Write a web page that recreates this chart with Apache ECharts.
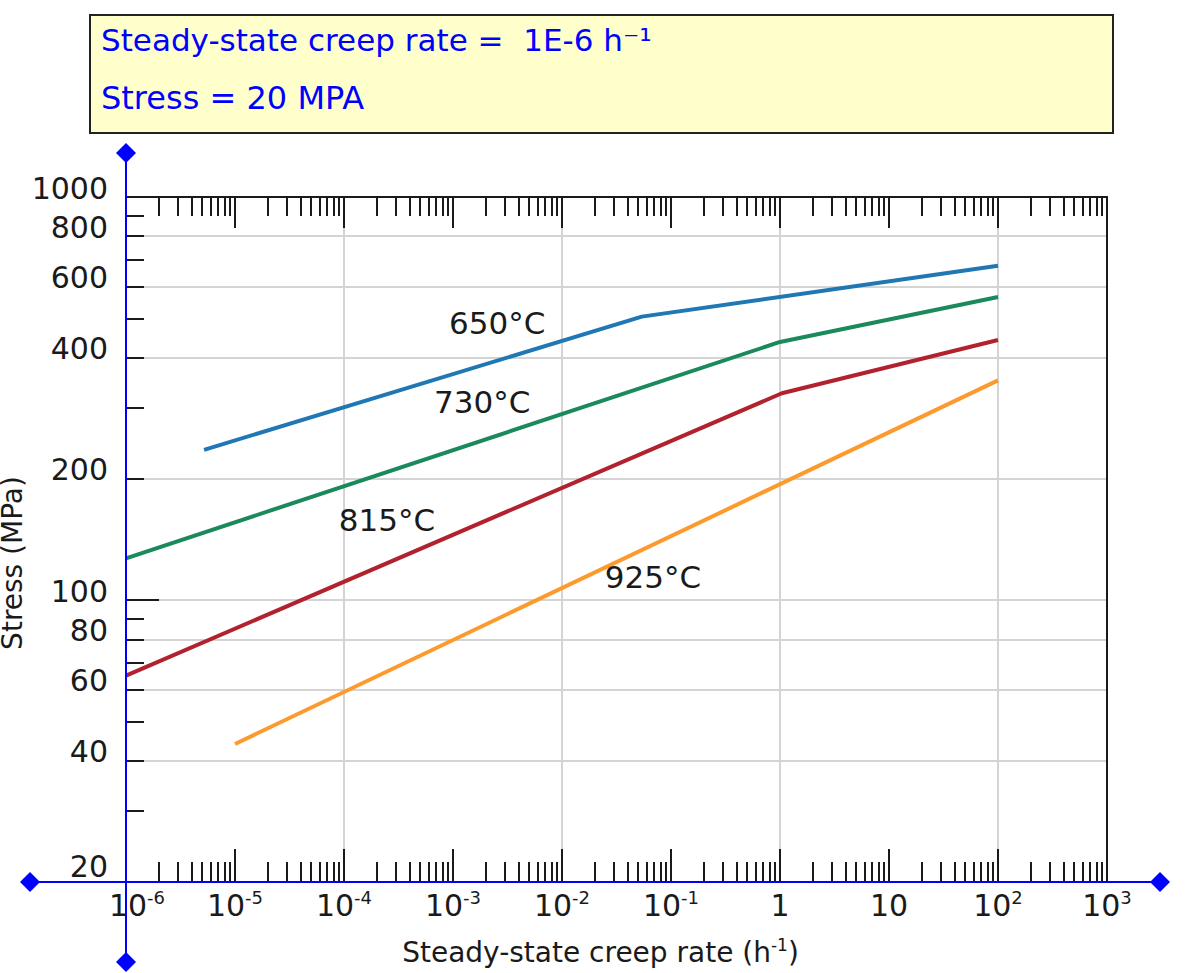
<!DOCTYPE html>
<html>
<head>
<meta charset="utf-8">
<title>Steady-state creep rate vs stress</title>
<script src="https://cdn.jsdelivr.net/npm/echarts@6/dist/echarts.min.js"></script>
<style>
  html, body { margin: 0; padding: 0; background: #fff; }
  #chart { width: 1200px; height: 973px; }
</style>
</head>
<body>
<div id="chart"></div>
<script>
// curves: creep rate in 1/h, stress in MPa
var temps = ['650°C', '730°C', '815°C', '925°C']
var rate650 = [5.2e-6, 0.054, 100]
var stress650 = [236, 505, 675]
var rate730 = [1e-6, 1, 100]
var stress730 = [127, 437, 565]
var rate815 = [1e-6, 1.04, 100]
var stress815 = [65, 326, 442]
var rate925 = [1e-5, 100]
var stress925 = [44, 351]

// axis ticks / labels
var rateTicks = [1e-6, 1e-5, 1e-4, 1e-3, 1e-2, 1e-1, 1, 10, 100, 1000]
var rateGrid = [1e-4, 1e-2, 1, 100]
var stressLabels = [20, 40, 60, 80, 100, 200, 400, 600, 800, 1000]
var stressGrid = [40, 60, 80, 100, 200, 400, 600, 800]
var stressTicks = [30, 40, 50, 60, 70, 80, 90, 200, 300, 400, 500, 600, 700, 800, 900]
var stressMajor = [100]

var colors = ['#1f77b4', '#1b8a5a', '#b2222e', '#fd9a2e']
// where the temperature labels sit (rate, stress)
var labelAt = [[2.54e-3, 488], [1.85e-3, 310], [2.48e-4, 158], [0.0684, 114]]

var GRID = { left: 126, top: 197, right: 1107, bottom: 882 }
var FONT = 'DejaVu Sans'
var INK = '#1a1a1a'

// minor log ticks 2..9 in every decade
var rateMinor = []
for (var k = 0; k < rateTicks.length - 1; k++) {
  for (var m = 2; m <= 9; m++) rateMinor.push(m * rateTicks[k])
}

function pairs(xs, ys) {
  return xs.map(function (x, i) { return [x, ys[i]] })
}
var curves = [
  pairs(rate650, stress650),
  pairs(rate730, stress730),
  pairs(rate815, stress815),
  pairs(rate925, stress925)
]

function rateLabel(v) {
  var e = Math.round(Math.log10(v))
  if (e === 0) return '1'
  if (e === 1) return '10'
  return (e === -6 ? '{b0|10}' : '{b|10}') + '{s|' + e + '}'
}

function diamond(cx, cy, r) {
  return {
    type: 'polygon',
    z: 20,
    shape: { points: [[cx, cy - r], [cx + r, cy], [cx, cy + r], [cx - r, cy]] },
    style: { fill: '#0000ff' }
  }
}

var blackTick = { color: INK, width: 2 }
var noLine = { show: false }

function logX(extra) {
  return Object.assign({
    type: 'log', logBase: 10, min: 1e-6, max: 1e3,
    axisLine: noLine, axisLabel: { show: false }, splitLine: { show: false }
  }, extra)
}
function logY(extra) {
  return Object.assign({
    type: 'log', logBase: 10, min: 20, max: 1000,
    axisLine: noLine, axisLabel: { show: false }, splitLine: { show: false }
  }, extra)
}

var chart = echarts.init(document.getElementById('chart'), null, { renderer: 'svg' })

var option = {
  animation: false,
  backgroundColor: '#fff',
  textStyle: { fontFamily: FONT },
  grid: {
    left: GRID.left,
    top: GRID.top,
    right: 1200 - GRID.right,
    bottom: 973 - GRID.bottom,
    outerBoundsMode: 'none'
  },
  xAxis: [
    logX({
      position: 'bottom',
      name: '{t|Steady-state creep rate (h}{s|-1}{t|)}',
      nameLocation: 'middle',
      nameGap: 54,
      nameMoveOverlap: false,
      nameTextStyle: {
        padding: [0, 32, 0, 0],
        rich: {
          t: { fontSize: 28, lineHeight: 32, color: INK, fontFamily: FONT },
          s: { fontSize: 17, lineHeight: 20, verticalAlign: 'top', color: INK, fontFamily: FONT }
        }
      },
      axisLine: { show: true, onZero: false, lineStyle: { color: '#0000ff', width: 2 } },
      axisTick: { show: true, inside: true, length: 33, lineStyle: blackTick, customValues: rateTicks },
      axisLabel: {
        show: true,
        customValues: rateTicks,
        formatter: rateLabel,
        margin: 6,
        fontSize: 30,
        lineHeight: 34,
        color: INK,
        rich: {
          b: { fontSize: 30, lineHeight: 34, color: INK, fontFamily: FONT },
          b0: { fontSize: 30, lineHeight: 34, color: INK, fontFamily: FONT, padding: [0, 0, 0, 22] },
          s: { fontSize: 18, lineHeight: 20, verticalAlign: 'top', color: INK, fontFamily: FONT }
        }
      }
    }),
    logX({
      position: 'bottom',
      axisTick: { show: true, inside: true, length: 20, lineStyle: blackTick, customValues: rateMinor }
    }),
    logX({
      position: 'top',
      axisLine: { show: true, onZero: false, lineStyle: { color: INK, width: 2 } },
      axisTick: { show: true, inside: true, length: 31, lineStyle: blackTick, customValues: rateTicks }
    }),
    logX({
      position: 'top',
      axisTick: { show: true, inside: true, length: 19, lineStyle: blackTick, customValues: rateMinor }
    }),
    logX({
      position: 'bottom',
      axisTick: { show: false, customValues: rateGrid },
      splitLine: { show: true, lineStyle: { color: '#d4d4d4', width: 2 } }
    })
  ],
  yAxis: [
    logY({
      position: 'left',
      name: 'Stress (MPa)',
      nameLocation: 'middle',
      nameGap: 100,
      nameMoveOverlap: false,
      nameTextStyle: { fontSize: 28, color: INK, padding: [0, 47, 0, 0] },
      axisLine: { show: true, onZero: false, lineStyle: { color: '#0000ff', width: 2 } },
      axisTick: { show: true, inside: true, length: 18, lineStyle: blackTick, customValues: stressTicks },
      axisLabel: {
        show: true,
        customValues: stressLabels,
        margin: 18,
        color: INK,
        fontSize: 30,
        formatter: function (v) { return v === 20 ? '{z|20}' : '{a|' + v + '}' },
        rich: {
          a: { fontSize: 30, color: INK, fontFamily: FONT, padding: [0, 0, 18, 0] },
          z: { fontSize: 30, color: INK, fontFamily: FONT, padding: [0, 0, 32, 0] }
        }
      }
    }),
    logY({
      position: 'left',
      axisTick: { show: true, inside: true, length: 33, lineStyle: blackTick, customValues: stressMajor }
    }),
    logY({
      position: 'left',
      axisTick: { show: false, customValues: stressGrid },
      splitLine: { show: true, lineStyle: { color: '#d4d4d4', width: 2 } }
    }),
    logY({
      position: 'right',
      axisLine: { show: true, onZero: false, lineStyle: { color: INK, width: 2 } },
      axisTick: { show: false }
    })
  ],
  series: curves.map(function (d, i) {
    return {
      type: 'line',
      name: temps[i],
      data: d,
      symbol: 'none',
      z: 3,
      lineStyle: { color: colors[i], width: 4 }
    }
  }).concat([{
    type: 'scatter',
    name: 'labels',
    silent: true,
    symbolSize: 0,
    itemStyle: { color: INK, opacity: 1 },
    z: 5,
    data: labelAt.map(function (p, i) { return { value: p, name: temps[i] } }),
    label: {
      show: true,
      position: 'inside',
      formatter: '{b}',
      fontSize: 31,
      color: INK,
      opacity: 1,
      fontFamily: FONT
    }
  }]),
  graphic: [
    {
      type: 'rect',
      z: 10,
      shape: { x: 90, y: 15, width: 1023, height: 118 },
      style: { fill: '#ffffcc', stroke: '#222', lineWidth: 2 }
    },
    {
      type: 'text',
      z: 11,
      style: {
        x: 101, y: 40, text: 'Steady-state creep rate =  1E-6 h\u207B\u00B9',
        fill: '#0000ff', fontSize: 31, fontFamily: FONT, verticalAlign: 'middle'
      }
    },
    {
      type: 'text',
      z: 11,
      style: {
        x: 101, y: 98, text: 'Stress = 20 MPA',
        fill: '#0000ff', fontSize: 32, fontFamily: FONT, verticalAlign: 'middle'
      }
    },
    {
      type: 'line', z: 20,
      shape: { x1: 30, y1: GRID.bottom, x2: 1160, y2: GRID.bottom },
      style: { stroke: '#0000ff', lineWidth: 2 }
    },
    {
      type: 'line', z: 20,
      shape: { x1: GRID.left, y1: 153, x2: GRID.left, y2: 962 },
      style: { stroke: '#0000ff', lineWidth: 2 }
    },
    diamond(30, GRID.bottom, 10),
    diamond(1160, GRID.bottom, 10),
    diamond(GRID.left, 153, 10),
    diamond(GRID.left, 962, 10)
  ]
}

chart.setOption(option)
</script>
</body>
</html>
